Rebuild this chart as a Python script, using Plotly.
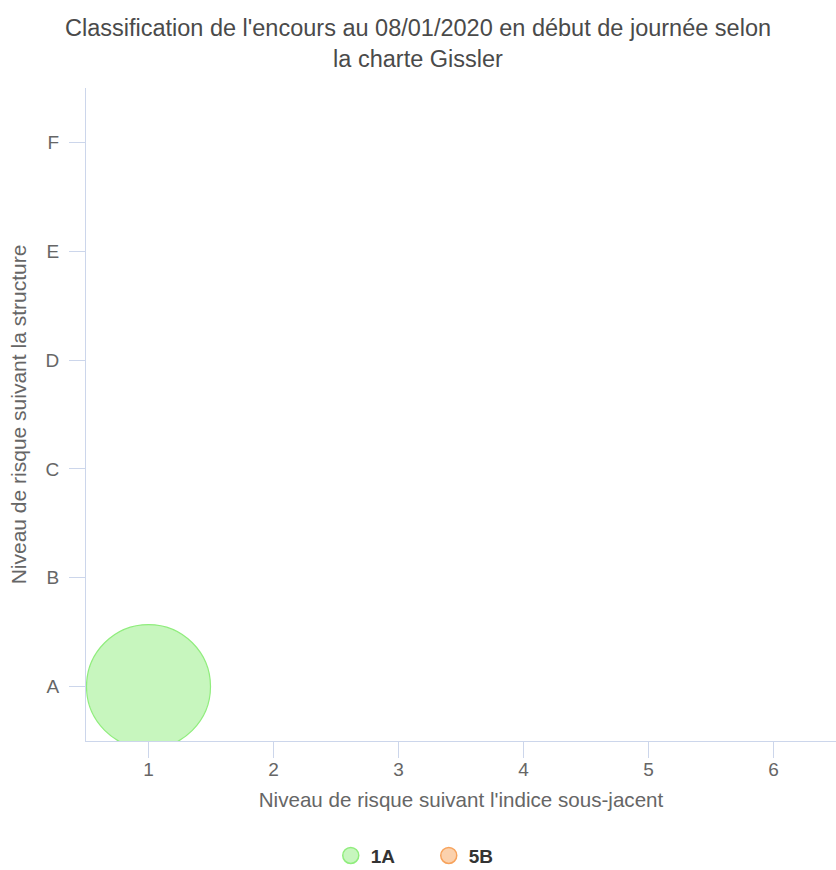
import plotly.graph_objects as go

# Data
series_names = ["1A", "5B"]
series_x = [1, 5]
series_y = ["A", "B"]
series_z = [100, 0]          # share of the outstanding amount (%)
series_colors = ["#90ed7d", "#f7a35c"]
series_fills = ["rgb(199,246,190)", "rgb(251,209,173)"]

y_categories = ["A", "B", "C", "D", "E", "F"]
x_ticks = [1, 2, 3, 4, 5, 6]

title_text = "Classification de l'encours au 08/01/2020 en début de journée selon<br>la charte Gissler"
x_title = "Niveau de risque suivant l'indice sous-jacent"
y_title = "Niveau de risque suivant la structure"

FONT = "Liberation Sans, Arial, sans-serif"
AXIS_COLOR = "#ccd6eb"
LABEL_COLOR = "#666666"

fig = go.Figure()

for name, x, y, z, col, fill in zip(series_names, series_x, series_y, series_z,
                                    series_colors, series_fills):
    # data bubble
    fig.add_trace(go.Scatter(
        x=[x], y=[y], mode="markers", name=name, legendgroup=name,
        showlegend=False,
        marker=dict(size=[z], sizemode="diameter", sizeref=100 / 124,
                    opacity=1,
                    color=fill, line=dict(color=col, width=1.2)),
        hovertemplate=f"{name}<extra></extra>",
    ))
    # legend entry
    fig.add_trace(go.Scatter(
        x=[None], y=[None], mode="markers", name=name, legendgroup=name,
        showlegend=True,
        marker=dict(size=22, opacity=1, color=fill,
                    line=dict(color=col, width=1.5)),
    ))

fig.update_layout(
    width=836, height=870,
    margin=dict(l=86, r=0, t=88, b=129, autoexpand=False),
    paper_bgcolor="white", plot_bgcolor="white",
    font=dict(family=FONT, color=LABEL_COLOR),
    title=dict(text=title_text, x=0.5, xref="container", xanchor="center",
               y=1 - 36 / 870, yref="container", yanchor="middle",
               font=dict(family=FONT, size=23.5, color="#4a4a4a")),
    showlegend=True,
    legend=dict(orientation="h", x=0.457, xanchor="center",
                y=-0.1755, yanchor="middle", entrywidth=53,
                font=dict(family=FONT, size=19, color="#333333", weight="bold"),
                itemclick="toggle"),
    xaxis=dict(
        range=[0.5, 6.5], tickmode="array", tickvals=x_ticks,
        showgrid=False, zeroline=False,
        showline=True, linecolor=AXIS_COLOR, linewidth=1,
        ticks="outside", ticklen=16, tickcolor=AXIS_COLOR, tickwidth=1,
        ticklabelstandoff=-5,
        tickfont=dict(size=19, color=LABEL_COLOR),
        title=dict(text=x_title, standoff=13,
                   font=dict(size=20.6, color=LABEL_COLOR)),
        fixedrange=True,
    ),
    yaxis=dict(
        type="category", categoryorder="array", categoryarray=y_categories,
        tickvals=y_categories,
        range=[-0.5, 5.5],
        showgrid=False, zeroline=False,
        showline=True, linecolor=AXIS_COLOR, linewidth=1,
        ticks="outside", ticklen=16, tickcolor=AXIS_COLOR, tickwidth=1,
        ticklabelstandoff=6,
        tickfont=dict(size=19, color=LABEL_COLOR),
        title=dict(text=y_title, standoff=13,
                   font=dict(size=21, color=LABEL_COLOR)),
        fixedrange=True,
    ),
)

fig.write_html("out.html")
